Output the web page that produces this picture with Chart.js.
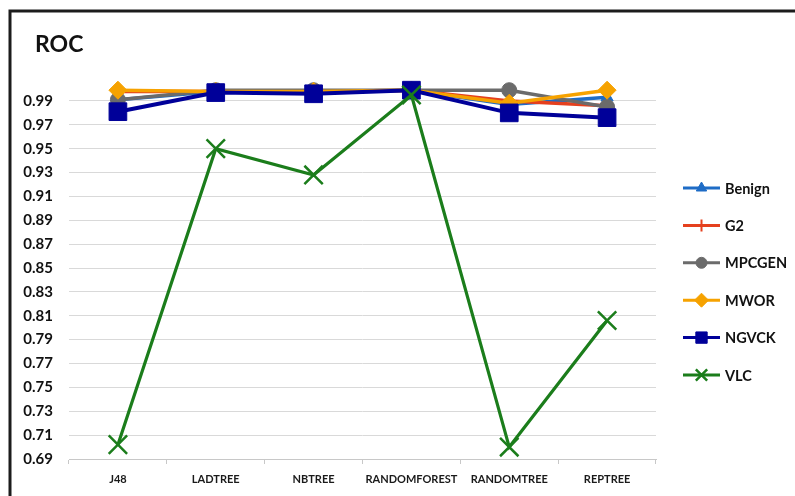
<!DOCTYPE html>
<html><head><meta charset="utf-8">
<script src="https://cdn.jsdelivr.net/npm/chart.js@4/dist/chart.umd.min.js"></script>
<style>html,body{margin:0;padding:0;background:#fff}canvas{display:block}</style>
</head><body>
<canvas id="c" width="795" height="496"></canvas>
<script>
const categories = ['J48', 'LADTREE', 'NBTREE', 'RANDOMFOREST', 'RANDOMTREE', 'REPTREE'];
const seriesNames = ['Benign', 'G2', 'MPCGEN', 'MWOR', 'NGVCK', 'VLC'];
const benign = [0.991, 0.998, 0.998, 0.999, 0.987, 0.993];
const g2     = [0.998, 0.998, 0.998, 0.999, 0.990, 0.986];
const mpcgen = [0.991, 0.999, 0.999, 0.999, 0.999, 0.985];
const mwor   = [0.999, 0.998, 0.998, 0.999, 0.988, 0.999];
const ngvck  = [0.981, 0.997, 0.996, 0.999, 0.980, 0.976];
const vlc    = [0.702, 0.950, 0.928, 0.995, 0.700, 0.806];
const yTicks = [0.69, 0.71, 0.73, 0.75, 0.77, 0.79, 0.81, 0.83, 0.85, 0.87, 0.89, 0.91, 0.93, 0.95, 0.97, 0.99];
const titleText = 'ROC';

const FONT = 'Lato, "Open Sans", sans-serif';
const values = [benign, g2, mpcgen, mwor, ngvck, vlc];
const styles = [
  {color: '#1e6cc6', point: 'triangle', r: 7, lw: 3.5, pbw: 1, lr: 6},
  {color: '#e5401e', point: 'cross', r: 6, lw: 3.5, pbw: 2, lr: 6},
  {color: '#6b6b6b', point: 'circle', r: 7.5, lw: 3.5, pbw: 1, lr: 5.5},
  {color: '#f6a200', point: 'rectRot', r: 9, lw: 3.5, pbw: 1, lr: 7},
  {color: '#000099', point: 'rect', r: 12.5, lw: 4, pbw: 1, lr: 8},
  {color: '#1b7d1b', point: 'crossRot', r: 13, lw: 3.2, pbw: 2.5, lr: 8}
];

const datasets = seriesNames.map((name, i) => ({
  label: name,
  data: values[i],
  borderColor: styles[i].color,
  backgroundColor: styles[i].color,
  borderWidth: styles[i].lw,
  pointStyle: styles[i].point,
  pointRadius: styles[i].r,
  pointHoverRadius: styles[i].r,
  pointBorderWidth: styles[i].pbw,
  pointBackgroundColor: styles[i].color,
  pointBorderColor: styles[i].color,
  tension: 0,
  clip: false,
  order: seriesNames.length - i
}));

const decor = {
  id: 'decor',
  afterDraw(chart) {
    const ctx = chart.ctx;
    ctx.save();
    ctx.strokeStyle = '#1c1c1c';
    ctx.lineWidth = 3;
    ctx.beginPath();
    ctx.moveTo(10, 496); ctx.lineTo(10, 11); ctx.lineTo(795, 11);
    ctx.stroke();
    ctx.fillStyle = '#111';
    ctx.font = 'bold 23px ' + FONT;
    ctx.textBaseline = 'alphabetic';
    ctx.textAlign = 'left';
    ctx.fillText(titleText, 35, 52);
    chart.data.datasets.forEach((ds, i) => {
      const y = 188 + i * 37.4;
      ctx.strokeStyle = ds.borderColor;
      ctx.lineWidth = 3;
      ctx.beginPath();
      ctx.moveTo(683, y); ctx.lineTo(720, y);
      ctx.stroke();
      if (Chart.helpers && Chart.helpers.drawPoint) {
        ctx.fillStyle = ds.borderColor;
        ctx.strokeStyle = ds.borderColor;
        ctx.lineWidth = ds.pointBorderWidth;
        Chart.helpers.drawPoint(ctx, {pointStyle: ds.pointStyle, radius: styles[i].lr, rotation: 0, borderWidth: ds.pointBorderWidth}, 701.5, y);
      }
      ctx.fillStyle = '#111';
      ctx.font = 'bold 14.5px ' + FONT;
      ctx.textBaseline = 'middle';
      ctx.textAlign = 'left';
      ctx.fillText(ds.label, 725, y + 1);
    });
    ctx.restore();
  }
};

new Chart(document.getElementById('c'), {
  type: 'line',
  data: {labels: categories, datasets},
  options: {
    responsive: false,
    animation: false,
    devicePixelRatio: 1,
    layout: {padding: {left: 0, top: 89, right: 139, bottom: 0}},
    plugins: {legend: {display: false}, tooltip: {enabled: false}, title: {display: false}},
    scales: {
      x: {
        offset: true,
        grid: {offset: true, drawOnChartArea: false, drawTicks: true, tickLength: 5, color: '#c8c8c8'},
        border: {display: true, color: '#c8c8c8', width: 1},
        ticks: {color: '#1a1a1a', font: {family: FONT, size: 11, weight: 'bold'}, padding: 9, maxRotation: 0, autoSkip: false},
        afterFit(s) { s.height = 37; }
      },
      y: {
        min: 0.69, max: 1.0,
        afterBuildTicks(s) { s.ticks = yTicks.map(v => ({value: v})); },
        grid: {color: '#d9d9d9', drawTicks: false, lineWidth: 1},
        border: {display: false},
        ticks: {color: '#111', font: {family: FONT, size: 15, weight: 'bold'}, padding: 16,
          callback: (v) => Number(v).toFixed(2)},
        afterFit(s) { s.width = 69; }
      }
    }
  },
  plugins: [decor]
});
</script>
</body></html>
